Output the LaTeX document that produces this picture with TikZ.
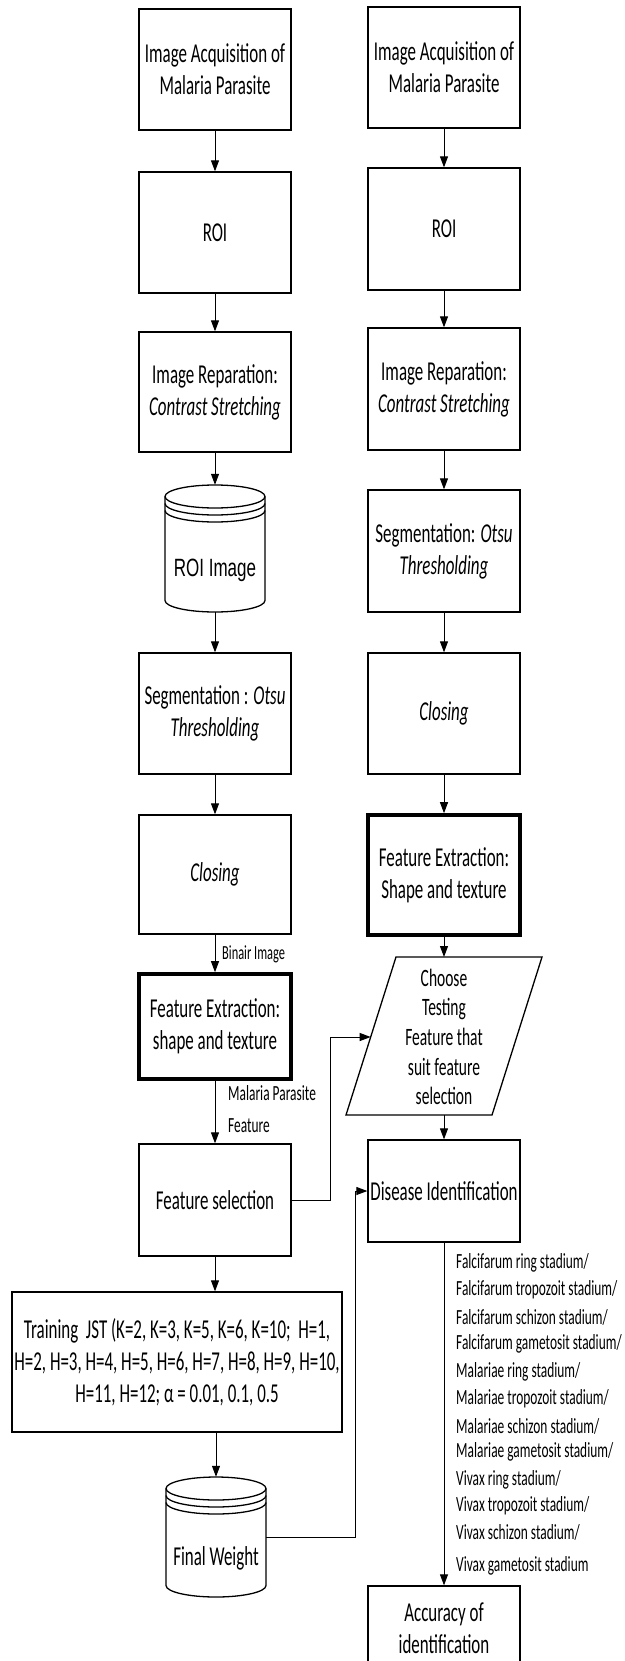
\documentclass[tikz,border=0pt]{standalone}
\usepackage{fontspec}
\setmainfont{Carlito}[FakeStretch=0.62]
\newfontfamily\arialfam{Liberation Sans}[FakeStretch=0.68]
\usetikzlibrary{arrows.meta}
\newcommand\fntbox{\fontsize{27.3}{32}\selectfont}
\newcommand\fntpg{\fontsize{25}{29.6}\selectfont}
\newcommand\fntlbl{\fontsize{21.6}{27}\selectfont}
\newcommand\fntsmall{\fontsize{20}{24}\selectfont}
\newcommand\fntcyl{\arialfam\fontsize{25}{30}\selectfont}
\begin{document}
\begin{tikzpicture}[x=1pt,y=1pt,
  box/.style={draw, line width=1.3pt, minimum width=152pt, inner sep=0pt, align=center, font=\fntbox},
  thickbox/.style={box, line width=3.6pt},
  ghost/.style={draw=none, inner sep=0pt},
  arr/.style={-{Triangle[length=11pt,width=8pt]}, line width=1pt},
  lbl/.style={anchor=west, inner sep=0pt, font=\fntlbl},
  cyl/.style={line width=1.3pt}]
\useasboundingbox (0,0) rectangle (624,-1661);
\fill[white] (0,0) rectangle (624,-1661);

% ---------- left column ----------
\node[box, minimum height=121pt] (la) at (215,-69.5) {Image Acquisition of\\Malaria Parasite};
\node[box, minimum height=121pt] (lb) at (215,-232.5) {ROI};
\node[box, minimum height=120pt] (lc) at (215,-392) {Image Reparation:\\\textit{Contrast Stretching}};
\node[ghost, minimum width=100pt, minimum height=127pt] (ld) at (215,-548.5) {};
\node[box, minimum height=121pt] (le) at (215,-713.5) {Segmentation : \textit{Otsu}\\\textit{Thresholding}};
\node[box, minimum height=119pt] (lf) at (215,-874.5) {\textit{Closing}};
\node[thickbox, minimum height=105pt] (lg) at (215,-1026.5) {Feature Extraction:\\shape and texture};
\node[box, minimum height=112pt] (lh) at (215,-1200) {Feature selection};
\node[box, minimum width=330pt, minimum height=140pt] (li) at (177,-1362)
  {Training~ JST (K=2, K=3, K=5, K=6, K=10;~ H=1,\\H=2, H=3, H=4, H=5, H=6, H=7, H=8, H=9, H=10,\\H=11, H=12; α = 0.01, 0.1, 0.5};
\node[ghost, minimum width=100pt, minimum height=120pt] (lj) at (216,-1537) {};

% cylinder ROI Image
\draw[cyl] (215,-496.5) ellipse [x radius=50, y radius=11.5];
\draw[cyl] (165,-503.5) arc[start angle=180, end angle=360, x radius=50, y radius=11.5];
\draw[cyl] (165,-510.5) arc[start angle=180, end angle=360, x radius=50, y radius=11.5];
\draw[cyl] (165,-496.5) -- (165,-600.5) arc[start angle=180, end angle=360, x radius=50, y radius=11.5] -- (265,-496.5);
\node[inner sep=0pt, font=\fntcyl] (ldt) at (215,-570) {ROI Image};

% cylinder Final Weight
\draw[cyl] (216,-1488.5) ellipse [x radius=50, y radius=11.5];
\draw[cyl] (166,-1495.5) arc[start angle=180, end angle=360, x radius=50, y radius=11.5];
\draw[cyl] (166,-1502.5) arc[start angle=180, end angle=360, x radius=50, y radius=11.5];
\draw[cyl] (166,-1488.5) -- (166,-1585.5) arc[start angle=180, end angle=360, x radius=50, y radius=11.5] -- (266,-1488.5);
\node[inner sep=0pt, font=\fntbox] (ljt) at (216,-1558) {Final Weight};

% ---------- right column ----------
\node[box, minimum height=121pt] (ra) at (444,-67.5) {Image Acquisition of\\Malaria Parasite};
\node[box, minimum height=122pt] (rb) at (444,-229) {ROI};
\node[box, minimum height=122pt] (rc) at (444,-389) {Image Reparation:\\\textit{Contrast Stretching}};
\node[box, minimum height=122pt] (rd) at (444,-551) {Segmentation: \textit{Otsu}\\\textit{Thresholding}};
\node[box, minimum height=121pt] (re) at (444,-713.5) {\textit{Closing}};
\node[thickbox, minimum height=120pt] (rf) at (444,-875) {Feature Extraction:\\Shape and texture};

% parallelogram
\coordinate (p1) at (396,-957);
\coordinate (p2) at (542,-957);
\coordinate (p3) at (492,-1115);
\coordinate (p4) at (346,-1115);
\coordinate (ptop) at (444,-957);
\coordinate (pbot) at (444,-1115);
\coordinate (pin) at (370.7,-1037);
\draw[line width=1.3pt, line join=miter] (p1) -- (p2) -- (p3) -- (p4) -- cycle;
\node[inner sep=0pt, align=center, font=\fntpg] (pg) at (444,-1037)
  {Choose\\Testing\\Feature that\\suit feature\\selection};

\node[box, minimum height=102pt] (rh) at (444,-1191) {Disease Identification};
\node[box, minimum height=84pt] (ri) at (444,-1628) {Accuracy of\\identification};

% ---------- connectors ----------
\draw[arr] (la.south) -- (lb.north);
\draw[arr] (lb.south) -- (lc.north);
\draw[arr] (lc.south) -- (ld.north);
\draw[arr] (ld.south) -- (le.north);
\draw[arr] (le.south) -- (lf.north);
\draw[arr] (lf.south) -- (lg.north);
\draw[arr] (lg.south) -- (lh.north);
\draw[arr] (lh.south) -- (lh.south |- li.north);
\draw[arr] (li.south -| lj.north) -- (lj.north);

\draw[arr] (ra.south) -- (rb.north);
\draw[arr] (rb.south) -- (rc.north);
\draw[arr] (rc.south) -- (rd.north);
\draw[arr] (rd.south) -- (re.north);
\draw[arr] (re.south) -- (rf.north);
\draw[arr] (rf.south) -- (ptop);
\draw[arr] (pbot) -- (rh.north);
\draw[arr] (rh.south) -- (ri.north);

\coordinate (bendA) at (330,-1037);
\draw[arr] (lh.east) -| (bendA) -- (pin);
\coordinate (bendB) at (355,-1191);
\draw[arr] (lj.east) -| (bendB) -- (rh.west);

% ---------- labels ----------
\node[anchor=west, inner sep=0pt, font=\fntsmall] (binair) at (222,-954) {Binair Image};
\node[anchor=west, inner sep=0pt, font=\fntlbl, align=left] (mpf) at (228,-1109) {Malaria Parasite\\[5pt]Feature};

\node[lbl] (s1) at (456,-1263) {Falcifarum ring stadium/};
\node[lbl] (s2) at (456,-1290) {Falcifarum tropozoit stadium/};
\node[lbl] (s3) at (456,-1317) {Falcifarum schizon stadium/};
\node[lbl] (s4) at (456,-1344) {Falcifarum gametosit stadium/};
\node[lbl] (s5) at (456,-1372) {Malariae ring stadium/};
\node[lbl] (s6) at (456,-1399) {Malariae tropozoit stadium/};
\node[lbl] (s7) at (456,-1426) {Malariae schizon stadium/};
\node[lbl] (s8) at (456,-1452) {Malariae gametosit stadium/};
\node[lbl] (s9) at (456,-1480) {Vivax ring stadium/};
\node[lbl] (s10) at (456,-1506) {Vivax tropozoit stadium/};
\node[lbl] (s11) at (456,-1532) {Vivax schizon stadium/};
\node[lbl] (s12) at (456,-1566) {Vivax gametosit stadium};
\end{tikzpicture}
\end{document}
